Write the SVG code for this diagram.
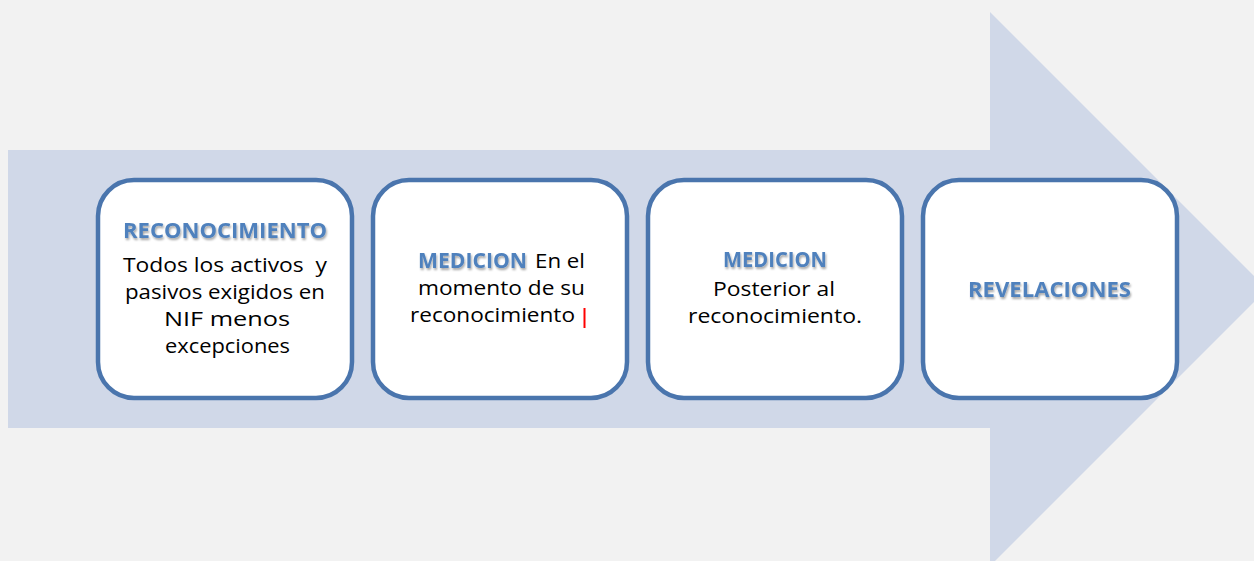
<svg xmlns="http://www.w3.org/2000/svg" width="1254" height="561" viewBox="0 0 1254 561">
<defs>
<style>
.box{fill:#ffffff;stroke:#4a75ad;stroke-width:4.5}
.hd{font-family:"Open Sans","Liberation Sans",sans-serif;font-weight:bold;font-size:22px;fill:#4f81bd;filter:url(#sh)}
.tx{font-family:"Open Sans","Liberation Sans",sans-serif;font-size:20px;fill:#000000}
</style>
<filter id="sh" x="-10%" y="-30%" width="120%" height="170%">
<feDropShadow dx="1" dy="2" stdDeviation="1.2" flood-color="#000000" flood-opacity="0.35"/>
</filter>
</defs>
<rect x="0" y="0" width="1254" height="561" fill="#f2f2f2"/>
<g id="arrow">
<polygon points="8,150 990,150 990,12 1267,289 990,566 990,428 8,428" fill="#d0d8e8"/>
</g>
<g id="connectors"></g>
<g id="node1">
<rect class="box" x="98" y="180" width="254" height="218" rx="36"/>
<text class="hd" x="123" y="238" textLength="204" lengthAdjust="spacingAndGlyphs">RECONOCIMIENTO</text>
<text class="tx" x="123" y="272" textLength="204" lengthAdjust="spacingAndGlyphs" xml:space="preserve">Todos los activos  y</text>
<text class="tx" x="125" y="299" textLength="200" lengthAdjust="spacingAndGlyphs">pasivos exigidos en</text>
<text class="tx" x="164" y="326" textLength="126" lengthAdjust="spacingAndGlyphs">NIF menos</text>
<text class="tx" x="165" y="353" textLength="125" lengthAdjust="spacingAndGlyphs">excepciones</text>
</g>
<g id="node2">
<rect class="box" x="373" y="180" width="254" height="218" rx="36"/>
<text class="hd" x="418" y="268" textLength="109" lengthAdjust="spacingAndGlyphs">MEDICION</text>
<text class="tx" x="535" y="268" textLength="50" lengthAdjust="spacingAndGlyphs">En el</text>
<text class="tx" x="418" y="295" textLength="167" lengthAdjust="spacingAndGlyphs">momento de su</text>
<text class="tx" x="410" y="322" textLength="165" lengthAdjust="spacingAndGlyphs">reconocimiento</text>
<line x1="584.5" y1="308" x2="584.5" y2="328" stroke="#ff0000" stroke-width="2"/>
</g>
<g id="node3">
<rect class="box" x="648" y="180" width="254" height="218" rx="36"/>
<text class="hd" x="723" y="267" textLength="104" lengthAdjust="spacingAndGlyphs">MEDICION</text>
<text class="tx" x="713" y="296" textLength="122" lengthAdjust="spacingAndGlyphs">Posterior al</text>
<text class="tx" x="688" y="323" textLength="174" lengthAdjust="spacingAndGlyphs">reconocimiento.</text>
</g>
<g id="node4">
<rect class="box" x="923" y="180" width="254" height="218" rx="36"/>
<text class="hd" x="968" y="297" textLength="163" lengthAdjust="spacingAndGlyphs">REVELACIONES</text>
</g>
</svg>
